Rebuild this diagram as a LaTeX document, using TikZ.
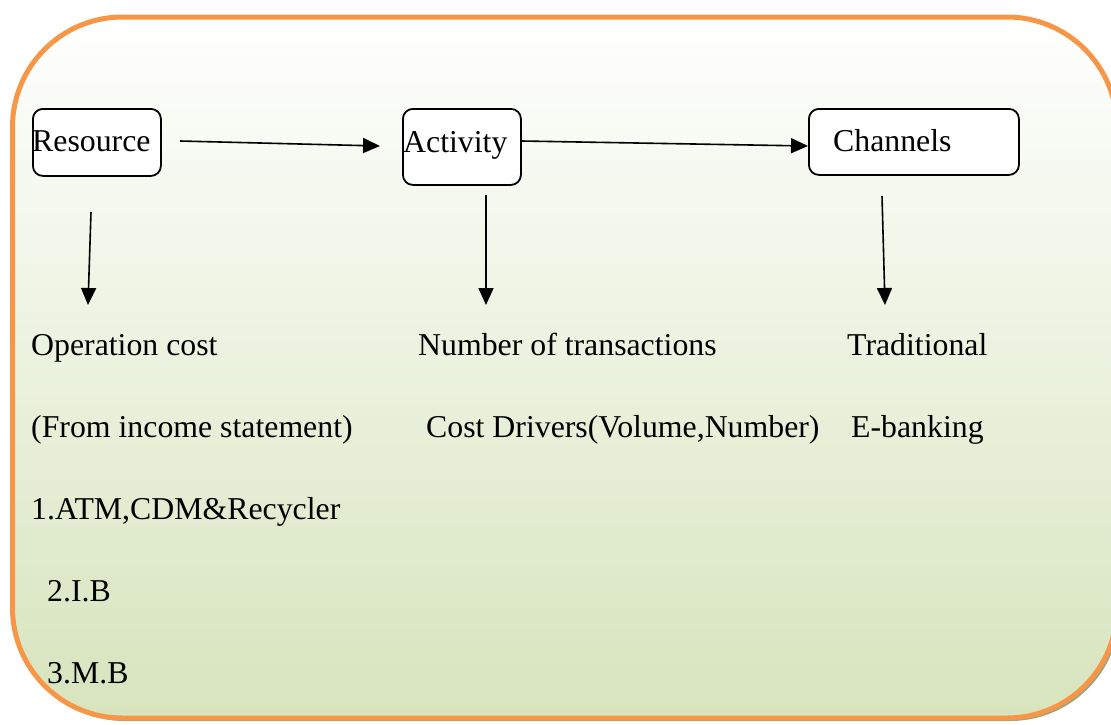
\documentclass[tikz,border=0pt]{standalone}
\usepackage{fontspec}
\setmainfont{Liberation Serif}
\usetikzlibrary{arrows.meta}
\definecolor{frameorange}{RGB}{247,150,70}
\definecolor{panelgreen}{RGB}{215,228,189}
\definecolor{shadowgreen}{RGB}{150,165,125}
\tikzset{
  stage/.style={draw=black, line width=1.8pt, rounded corners=10pt, fill=white,
                anchor=north west, inner sep=0pt},
  label/.style={anchor=base west, inner sep=0pt,
                font=\rmfamily\fontsize{31.8}{38}\selectfont},
  flow/.style={line width=1.6pt, -{Triangle[length=17pt,width=15pt]}}
}
\begin{document}
\begin{tikzpicture}[x=1pt,y=-1pt]
\useasboundingbox (0,0) rectangle (1111,724);
% panel shadow, gradient panel and orange frame
\fill[shadowgreen, rounded corners=110pt] (15,20) rectangle (1120,721);
\shade[top color=white, bottom color=panelgreen, rounded corners=110pt]
  (12.5,17) rectangle (1117,718);
\draw[frameorange, line width=5pt, rounded corners=110pt]
  (12.5,17) rectangle (1117,718);

% the three stages
\node[stage, minimum width=128pt, minimum height=67pt] (res) at (32,108) {};
\node[stage, minimum width=118pt, minimum height=76pt] (act) at (402,108) {};
\node[stage, minimum width=210pt, minimum height=66pt] (chn) at (808,108) {};
\node[label] (resT) at (32,151) {Resource};
\node[label] (actT) at (403,152) {Activity};
\node[label] (chnT) at (833,151) {Channels};

% arrow end points
\coordinate (r1) at (180,141);
\coordinate (a1) at (380,146);
\coordinate (r2) at (522,141);
\coordinate (a2) at (808,146);
\coordinate (d1s) at (91,212);
\coordinate (d1e) at (88,305);
\coordinate (d2s) at (486,195);
\coordinate (d2e) at (486,305);
\coordinate (d3s) at (882,196);
\coordinate (d3e) at (885,305);
\draw[flow] (r1) -- (a1);
\draw[flow] (r2) -- (a2);
\draw[flow] (d1s) -- (d1e);
\draw[flow] (d2s) -- (d2e);
\draw[flow] (d3s) -- (d3e);

% descriptions under each stage
\node[label] (t1) at (31,355) {Operation cost};
\node[label] (t2) at (31,437) {(From income statement)};
\node[label] (t3) at (31,519) {1.ATM,CDM\&Recycler};
\node[label] (t4) at (47,601) {2.I.B};
\node[label] (t5) at (47,683) {3.M.B};
\node[label] (t6) at (418,355) {Number of transactions};
\node[label] (t7) at (426,437) {Cost Drivers(Volume,Number)};
\node[label] (t8) at (847,355) {Traditional};
\node[label] (t9) at (851,437) {E-banking};
\end{tikzpicture}
\end{document}
